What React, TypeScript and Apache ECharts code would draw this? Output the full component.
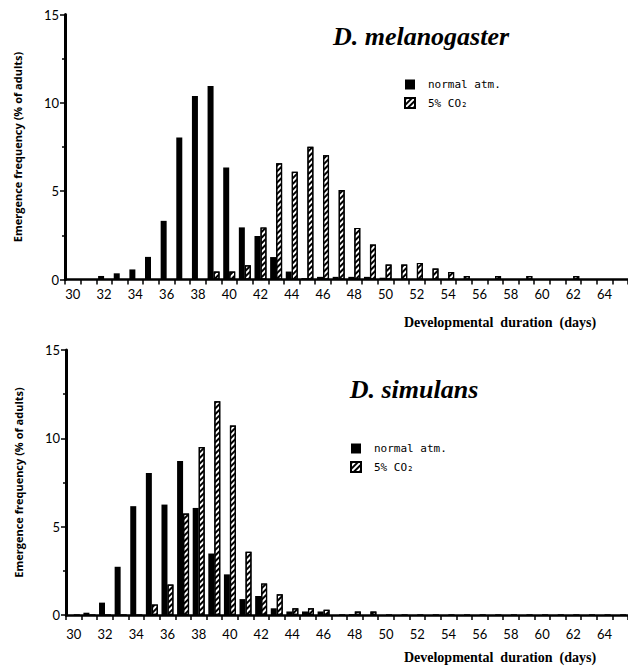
import React, { useEffect, useRef } from "react";
import * as echarts from "echarts";

const days = [
  "30", "31", "32", "33", "34", "35", "36", "37", "38", "39",
  "40", "41", "42", "43", "44", "45", "46", "47", "48", "49",
  "50", "51", "52", "53", "54", "55", "56", "57", "58", "59",
  "60", "61", "62", "63", "64", "65",
];

// D. melanogaster
const melNormal = [
  0, 0, 0.2, 0.35, 0.57, 1.28, 3.32, 8.04, 10.38, 10.95,
  6.34, 2.95, 2.46, 1.27, 0.45, 0.08, 0.15, 0.15, 0.15, 0.15,
  0.1, 0, 0, 0, 0, 0, 0, 0, 0, 0,
  0, 0, 0, 0, 0, 0,
];
const melCO2 = [
  0, 0, 0, 0, 0, 0, 0, 0, 0, 0.45,
  0.45, 0.8, 2.95, 6.58, 6.1, 7.51, 7.04, 5.06, 2.92, 1.98,
  0.85, 0.85, 0.94, 0.62, 0.43, 0.2, 0, 0.2, 0, 0.2,
  0, 0, 0.2, 0, 0, 0,
];

// D. simulans
const simNormal = [
  0, 0.13, 0.7, 2.73, 6.16, 8.04, 6.25, 8.72, 6.06, 3.48,
  2.3, 0.9, 1.07, 0.38, 0.2, 0.2, 0.2, 0, 0.05, 0,
  0, 0, 0, 0, 0, 0, 0, 0, 0, 0,
  0, 0, 0, 0, 0, 0,
];
const simCO2 = [
  0, 0, 0, 0, 0, 0.6, 1.73, 5.74, 9.51, 12.1,
  10.73, 3.58, 1.79, 1.17, 0.38, 0.38, 0.3, 0, 0.2, 0.2,
  0, 0, 0, 0, 0, 0, 0, 0, 0, 0,
  0, 0, 0, 0, 0, 0,
];

const seriesNames = ["normal atm.", "5% CO₂"];
const speciesTitles = ["D. melanogaster", "D. simulans"];
const xTitle = "Developmental  duration  (days)";
const yTitle = "Emergence frequency (% of adults)";

export default function App() {
  const ref = useRef<HTMLDivElement>(null);

  useEffect(() => {
    const chart = echarts.init(ref.current!, null, { renderer: "svg" });

    const grids = [
      { left: 65, width: 563, top: 14.5, height: 265 },
      { left: 66, width: 562, top: 350, height: 265 },
    ];

    const makeX = (gi: number, margin: number) => ({
      type: "category",
      gridIndex: gi,
      data: days,
      boundaryGap: true,
      axisLine: { show: true, lineStyle: { color: "#000", width: 2.5 } },
      axisTick: { show: true, interval: 0, length: 5, lineStyle: { color: "#000", width: 1.5 } },
      axisLabel: { interval: 1, color: "#000", fontFamily: "Lato", fontSize: 13, margin },
      splitLine: { show: false },
    });

    const makeY = (gi: number) => ({
      type: "value",
      gridIndex: gi,
      min: 0,
      max: 15,
      interval: 5,
      axisLine: { show: true, lineStyle: { color: "#000", width: 3 } },
      axisTick: { show: true, length: 5, lineStyle: { color: "#000", width: 1.5 } },
      minorTick: { show: true, splitNumber: 2, length: 3, lineStyle: { color: "#000", width: 1.5 } },
      splitLine: { show: false },
      axisLabel: { color: "#000", fontFamily: "Lato", fontSize: 13, margin: 6 },
      name: yTitle,
      nameLocation: "middle",
      nameGap: 42,
      nameTextStyle: { color: "#000", fontFamily: "Open Sans", fontWeight: "bold", fontSize: 11 },
    });

    const hatch = {
      color: "#fff",
      borderColor: "#000",
      borderWidth: 1.2,
      decal: {
        symbol: "rect",
        symbolSize: 1,
        color: "#000",
        dashArrayX: [1, 0],
        dashArrayY: [1.6, 1.6],
        rotation: -Math.PI / 4,
      },
    };

    const makeBar = (name: string, gi: number, data: number[], hatched: boolean) => ({
      type: "bar",
      name,
      xAxisIndex: gi,
      yAxisIndex: gi,
      data,
      barWidth: 6,
      barGap: "0%",
      itemStyle: hatched ? hatch : { color: "#000" },
    });

    const legendBase = {
      data: seriesNames,
      orient: "vertical",
      padding: 0,
      itemWidth: 10,
      itemHeight: 10,
      itemGap: 7,
      icon: "rect",
      selectedMode: false,
      textStyle: { color: "#000", fontFamily: "DejaVu Sans Mono", fontSize: 11, padding: [0, 0, 0, 8] },
    };

    const textEl = (text: string, x: number, y: number, font: string) => ({
      type: "text",
      x,
      y,
      style: { text, font, fill: "#000", textAlign: "center", textVerticalAlign: "middle" },
    });

    chart.setOption({
      animation: false,
      backgroundColor: "#fff",
      grid: grids,
      xAxis: [makeX(0, 8), makeX(1, 12)],
      yAxis: [makeY(0), makeY(1)],
      legend: [
        { ...legendBase, left: 404, top: 79 },
        { ...legendBase, left: 350, top: 443 },
      ],
      series: [
        makeBar(seriesNames[0], 0, melNormal, false),
        makeBar(seriesNames[1], 0, melCO2, true),
        makeBar(seriesNames[0], 1, simNormal, false),
        makeBar(seriesNames[1], 1, simCO2, true),
      ],
      graphic: [
        textEl(speciesTitles[0], 421, 36, "italic bold 26px 'Liberation Serif'"),
        textEl(speciesTitles[1], 414, 389, "italic bold 26px 'Liberation Serif'"),
        textEl(xTitle, 500, 322, "bold 14px 'Liberation Serif'"),
        textEl(xTitle, 500, 657, "bold 14px 'Liberation Serif'"),
      ],
    });

    return () => chart.dispose();
  }, []);

  return (
    <div
      ref={ref}
      style={{ position: "absolute", left: 0, top: 0, width: 628, height: 667, background: "#fff" }}
    />
  );
}
